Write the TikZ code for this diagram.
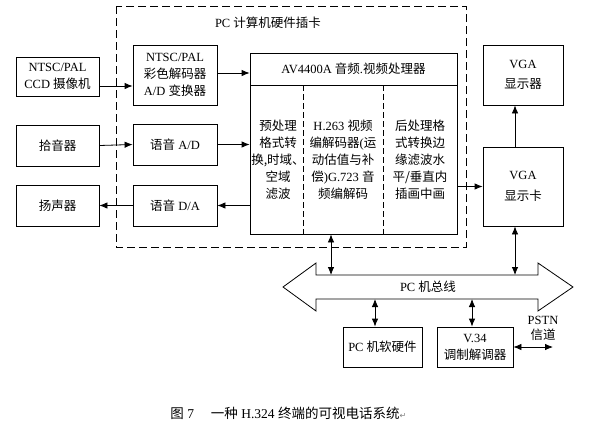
\documentclass[tikz,border=0pt]{standalone}
\usepackage{fontspec}
\setmainfont{Liberation Serif}
\newfontfamily\cjk{Noto Sans CJK SC}
\newfontfamily\symfont{DejaVu Sans}
\usetikzlibrary{arrows.meta}
\begin{document}
\begin{tikzpicture} [x = 1pt, y = -1pt, > = {Latex[length = 8pt, width = 6.5pt]}, line width = 0.8pt,
        box/.style = {draw, rectangle, inner sep = 0pt, align = center, font = \fontsize{12.5}{17}\selectfont},
        txt/.style = {inner sep = 0pt, align = center, font = \fontsize{12.5}{17}\selectfont}]
        \useasboundingbox (0,0) rectangle (590,437);
        
        % PC card frame
        \draw [dash pattern = on 8pt off 4pt] (116,6) rectangle (466,247);
        \node [txt] (cardlabel) at (268,23) {PC {\cjk 计算机硬件插卡}};
        
        \node [box, minimum width = 83pt, minimum height = 39pt] (ccd) at (57.5,76.5) {NTSC/PAL\\CCD {\cjk 摄像机}};
        \node [box, minimum width = 83pt, minimum height = 41pt] (mic) at (57.5,145.5) {\cjk 拾音器};
        \node [box, minimum width = 83pt, minimum height = 41pt] (spk) at (57.5,205.5) {\cjk 扬声器};
        
        \node [box, minimum width = 84pt, minimum height = 60pt] (dec) at (175,75) {NTSC/PAL\\{\cjk 彩色解码器}\\A/D {\cjk 变换器}};
        \node [box, minimum width = 84pt, minimum height = 41pt] (ad) at (175,144.5) {{\cjk 语音} A/D};
        \node [box, minimum width = 84pt, minimum height = 41pt] (da) at (175,205.5) {{\cjk 语音} D/A};
        
        % AV4400A processor
        \node [box, minimum width = 207pt, minimum height = 181pt] (av) at (353.5,143.5) {};
        \draw (250,85) -- (457,85);
        \draw [dash pattern = on 6pt off 3pt] (303,85) -- (303,234);
        \draw [dash pattern = on 6pt off 3pt] (383,85) -- (383,234);
        \node [txt] (avtitle) at (353.5,69) {AV4400A {\cjk 音频}.{\cjk 视频处理器}};
        \node [txt] (pre) at (278,159.5) {{\cjk 预处理}\\{\cjk 格式转}\\{\cjk 换,时域、}\\{\cjk 空域}\\{\cjk 滤波}};
        \node [txt] (codec) at (343,160) {H.263 {\cjk 视频}\\{\cjk 编解码器}({\cjk 运}\\{\cjk 动估值与补}\\{\cjk 偿})G.723 {\cjk 音}\\{\cjk 频编解码}};
        \node [txt] (post) at (420,159.5) {{\cjk 后处理格}\\{\cjk 式转换边}\\{\cjk 缘滤波水}\\{\cjk 平/垂直内}\\{\cjk 插画中画}};
        
        \node [box, minimum width = 80pt, minimum height = 60pt] (mon) at (523,75) {VGA\\[3pt]{\cjk 显示器}};
        \node [box, minimum width = 80pt, minimum height = 79pt] (card) at (523,186.5) {VGA\\[4pt]{\cjk 显示卡}};
        
        % PC bus
        \draw (283,287) -- (316,263) -- (316,275) -- (538,275) -- (538,263) -- (573,287)
            -- (538,311) -- (538,299) -- (316,299) -- (316,311) -- cycle;
        \node [txt] (bus) at (428,287) {PC {\cjk 机总线}};
        \coordinate (bustop) at (0,275);
        \coordinate (busbot) at (0,299);
        
        \node [box, minimum width = 79pt, minimum height = 40pt] (pc) at (382.5,347) {PC {\cjk 机软硬件}};
        \node [box, minimum width = 76pt, minimum height = 40pt] (modem) at (475,347) {V.34\\{\cjk 调制解调器}};
        \coordinate (pstn) at (553,347);
        \node [txt, font = \fontsize{12.5}{15}\selectfont] (pstnlabel) at (543,328) {PSTN\\{\cjk 信道}};
        
        \draw [->] ([yshift = -9.5pt]ccd.east) -- ([yshift = -9.5pt]ccd.east -| dec.west);
        \draw [->] ([yshift = 2pt]dec.east) -- ([yshift = 2pt]dec.east -| av.west);
        \draw [->] (mic.east) -- (ad.west);
        \draw [->] (ad.east) -- (ad.east -| av.west);
        \draw [->] (av.west |- da.east) -- (da.east);
        \draw [->] (da.west) -- (spk.east);
        \draw [->] (av.east |- card.west) -- (card.west);
        \draw [->] ([xshift = -8pt]card.north) -- ([xshift = -8pt]mon.south);
        \draw [<->] ([xshift = -8pt]card.south) -- ([xshift = -8pt]card.south |- bustop);
        \draw [<->] ([xshift = -22.5pt]av.south) -- ([xshift = -22.5pt]av.south |- bustop);
        \draw [<->] ([xshift = -7.5pt]pc.north |- busbot) -- ([xshift = -7.5pt]pc.north);
        \draw [<->] ([xshift = -3pt]modem.north |- busbot) -- ([xshift = -3pt]modem.north);
        \draw [<->] (modem.east) -- (pstn);
        
        \node [txt, anchor = west, font = \fontsize{13.5}{17}\selectfont] (caption) at (170,413) {{\cjk 图} 7\quad\ {\cjk 一种} H.324 {\cjk 终端的可视电话系统}{\symfont\fontsize{8}{8}\selectfont\color{gray}↵}};
    \end{tikzpicture}
\end{document}
